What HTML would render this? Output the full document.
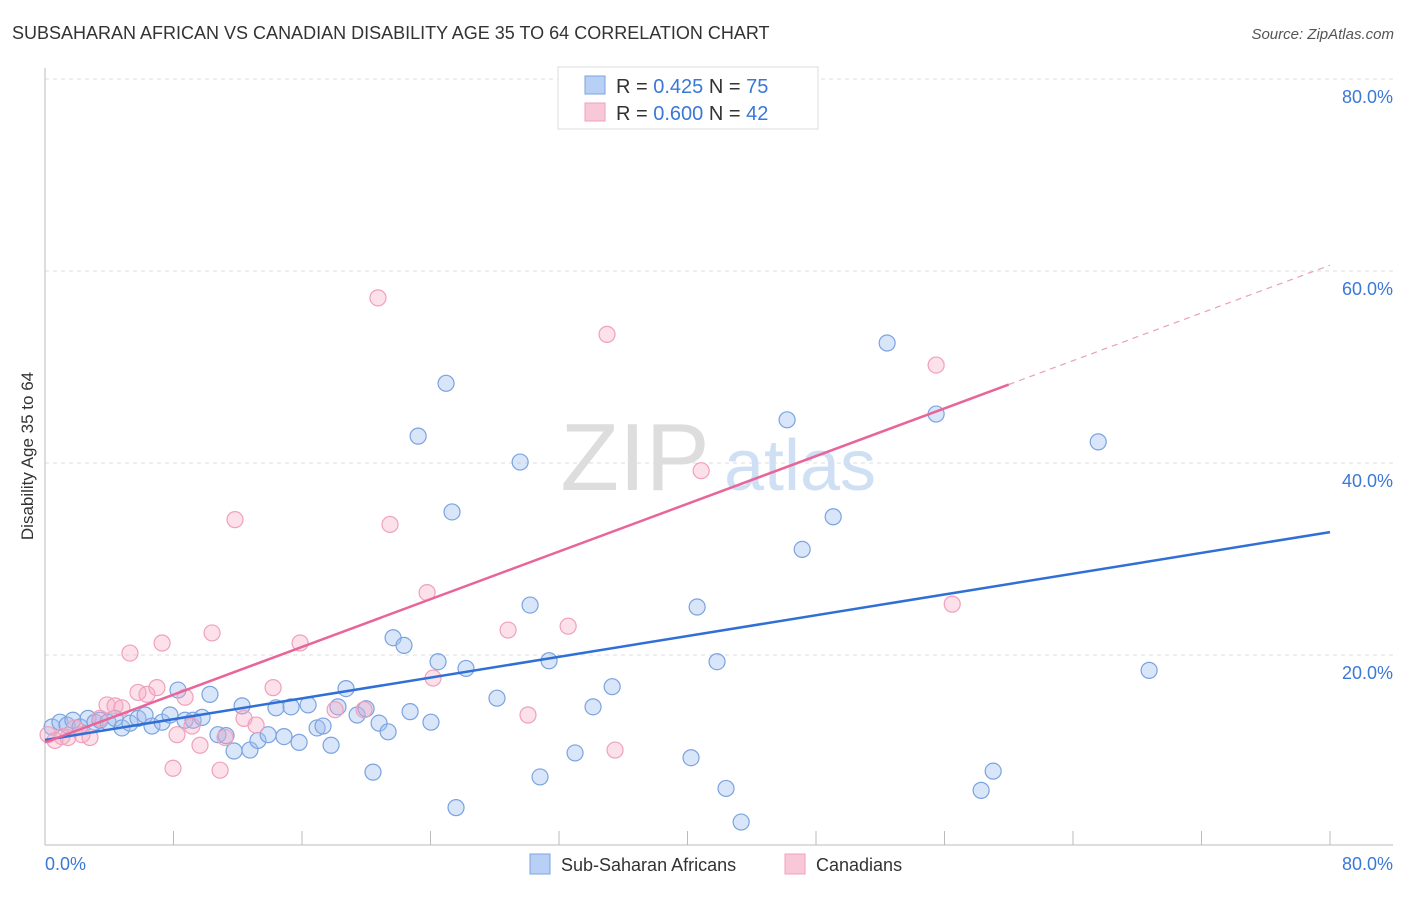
<!DOCTYPE html>
<html><head><meta charset="utf-8"><style>
body{margin:0;background:#fff;font-family:"Liberation Sans",sans-serif;}
svg text{font-family:"Liberation Sans",sans-serif;}
</style></head><body>
<svg id="chart" width="1406" height="892" xmlns="http://www.w3.org/2000/svg">
<text x="12" y="39" font-size="18" fill="#333">SUBSAHARAN AFRICAN VS CANADIAN DISABILITY AGE 35 TO 64 CORRELATION CHART</text>
<text x="1394" y="39" font-size="15" fill="#555" text-anchor="end" font-style="italic">Source: ZipAtlas.com</text>
<g id="grid"></g>
<g id="axes"></g>
<g>
<text x="635" y="490" font-size="96" fill="#ddd" font-family="Liberation Serif" text-anchor="middle">ZIP</text>
<text x="800" y="490" font-size="72" fill="#cfe0f5" text-anchor="middle">atlas</text>
</g>
<g id="points"></g>
<g id="lines"></g>
<text transform="translate(33,456) rotate(-90)" font-size="17" fill="#333" text-anchor="middle">Disability Age 35 to 64</text>
<g>
<rect x="558" y="67" width="260" height="62" fill="#fff" stroke="#ddd"/>
<rect x="585" y="76" width="20" height="18" fill="#b8d0f5" stroke="#7aa3e0"/>
<rect x="585" y="103" width="20" height="18" fill="#f9c8d8" stroke="#f0a0bb"/>
<text x="616" y="93" font-size="20" fill="#333">R = <tspan fill="#3a78d8">0.425</tspan>   N = <tspan fill="#3a78d8">75</tspan></text>
<text x="616" y="120" font-size="20" fill="#333">R = <tspan fill="#3a78d8">0.600</tspan>   N = <tspan fill="#3a78d8">42</tspan></text>
</g>
<g>
<rect x="530" y="854" width="20" height="20" fill="#b8d0f5" stroke="#7aa3e0"/>
<text x="561" y="871" font-size="18" fill="#333">Sub-Saharan Africans</text>
<rect x="785" y="854" width="20" height="20" fill="#f9c8d8" stroke="#f0a0bb"/>
<text x="816" y="871" font-size="18" fill="#333">Canadians</text>
</g>
</svg>
<script>
const blueX=[0.44,0.93,1.37,1.74,2.18,2.68,3.11,3.42,3.92,4.36,4.79,5.29,5.79,6.23,6.66,7.29,7.78,8.28,8.72,9.22,9.78,10.27,10.77,11.27,11.77,12.27,12.76,13.26,13.89,14.38,14.88,15.32,15.82,16.38,16.94,17.31,17.81,18.24,18.74,19.43,19.99,20.42,20.80,21.36,21.67,22.35,22.73,23.23,24.03,24.47,24.97,25.34,25.59,26.21,28.14,29.58,30.20,30.82,31.38,33.00,34.12,35.31,40.22,40.60,41.84,42.40,43.34,46.20,47.14,49.07,52.43,55.48,58.28,59.03,65.57,68.74];
const blueY=[12.5,13.0,12.7,13.2,12.5,13.4,13.0,13.2,13.0,13.4,12.4,12.9,13.4,13.75,12.6,13.0,13.75,16.35,13.2,13.2,13.5,15.9,11.7,11.6,10.0,14.7,10.1,11.1,11.7,14.5,11.5,14.6,10.9,14.8,12.4,12.6,10.6,14.6,16.5,13.75,14.4,7.8,12.9,12.0,21.8,21.0,14.1,42.8,13.0,19.3,48.3,34.9,4.1,18.6,15.5,40.1,25.2,7.3,19.4,9.8,14.6,16.7,9.3,25.0,19.3,6.1,2.6,44.5,31.0,34.4,52.5,45.1,5.9,7.9,42.2,18.4];
const pinkX=[0.19,0.62,1.06,1.43,1.87,2.30,2.80,3.42,3.86,4.36,4.79,5.29,5.79,6.35,6.97,7.29,7.97,8.22,8.72,9.15,9.65,10.40,10.90,11.21,11.83,12.39,13.14,14.20,15.88,18.06,19.86,20.73,21.48,23.79,24.16,28.83,30.07,32.57,34.99,35.49,40.85,55.48,56.48];
const pinkY=[11.7,11.1,11.5,11.4,12.4,11.7,11.4,13.4,14.8,14.7,14.5,20.2,16.1,15.9,16.6,21.25,8.2,11.7,15.6,12.6,10.6,22.3,8.0,11.4,34.1,13.4,12.7,16.6,21.25,14.3,14.3,57.2,33.6,26.5,17.6,22.6,13.75,23.0,53.4,10.1,39.2,50.2,25.3];
const blueTrend=[11.15,32.8];
const pinkTrend=[10.9,60.6];
const yTicks=[20,40,60,80];
const xTickCount=10;
const NS="http://www.w3.org/2000/svg";
const xs=v=>45+v*(1285/80);
const ys=v=>847-v*9.6;
function mk(parent,tag,attrs){const e=document.createElementNS(NS,tag);for(const k in attrs)e.setAttribute(k,attrs[k]);parent.appendChild(e);return e;}
const grid=document.getElementById('grid'),axes=document.getElementById('axes');
yTicks.forEach(t=>{
 const l=mk(grid,'line',{x1:45,x2:1393,y1:ys(t),y2:ys(t),stroke:'#ddd','stroke-dasharray':'4,4'});
 
 
 const tx=mk(axes,'text',{x:1393,y:ys(t)+24,'font-size':18,fill:'#3a78d8','text-anchor':'end'});
 tx.textContent=t.toFixed(1)+'%';
 
 
});
mk(axes,'line',{x1:45,x2:45,y1:68,y2:845,stroke:'#bbb'});
mk(axes,'line',{x1:45,x2:1393,y1:845,y2:845,stroke:'#bbb'});
for(let i=0;i<=xTickCount;i++){const x=xs(i*8);mk(axes,'line',{x1:x,x2:x,y1:831,y2:845,stroke:'#bbb'});}
const x0=mk(axes,'text',{x:45,y:870,'font-size':18,fill:'#3a78d8'});x0.textContent='0.0%';


const x1=mk(axes,'text',{x:1393,y:870,'font-size':18,fill:'#3a78d8','text-anchor':'end'});x1.textContent='80.0%';


const pts=document.getElementById('points');
blueX.forEach((v,i)=>{const c=mk(pts,'circle',{cx:xs(v),cy:ys(blueY[i]),r:8,fill:'rgba(160,190,240,0.4)',stroke:'#7aa3e0','stroke-width':1.2});
 
 });
pinkX.forEach((v,i)=>{const c=mk(pts,'circle',{cx:xs(v),cy:ys(pinkY[i]),r:8,fill:'rgba(245,170,195,0.35)',stroke:'#f0a0bb','stroke-width':1.2});
 
 });
const ln=document.getElementById('lines');
const b=mk(ln,'line',{x1:xs(0),y1:ys(blueTrend[0]),x2:xs(80),y2:ys(blueTrend[1]),stroke:'#2f6fd6','stroke-width':2.5});


const pm=v=>pinkTrend[0]+(pinkTrend[1]-pinkTrend[0])*v/80;
const p=mk(ln,'line',{x1:xs(0),y1:ys(pm(0)),x2:xs(60),y2:ys(pm(60)),stroke:'#e8659a','stroke-width':2.5});


const pd=mk(ln,'line',{x1:xs(60),y1:ys(pm(60)),x2:xs(80),y2:ys(pm(80)),stroke:'#e8a0bb','stroke-width':1.2,'stroke-dasharray':'6,5'});


</script>
</body></html>
